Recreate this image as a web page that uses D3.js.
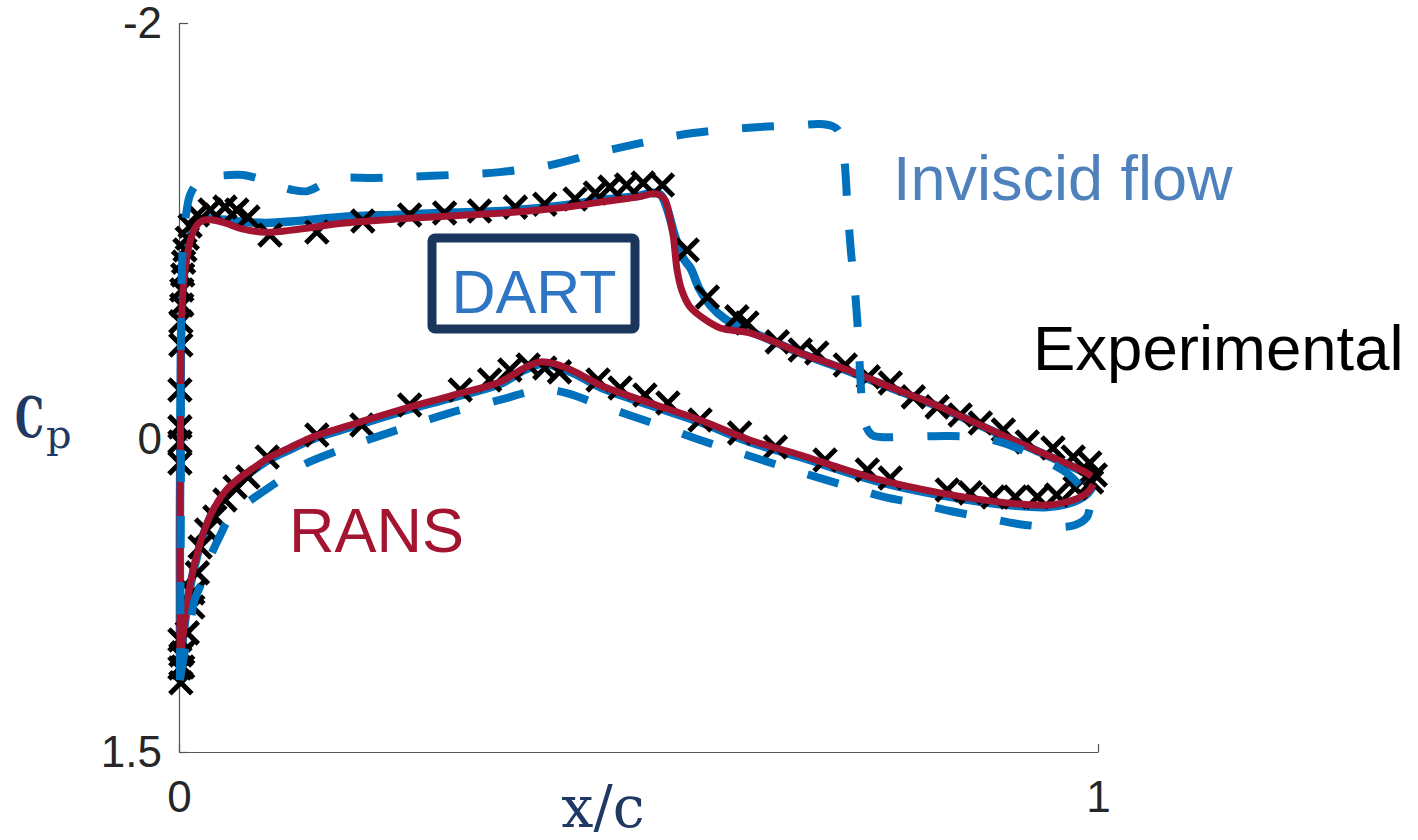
<!DOCTYPE html>
<html>
<head>
<meta charset="utf-8">
<script src="https://cdn.jsdelivr.net/npm/d3@7"></script>
<style>
  html, body { margin: 0; padding: 0; background: #fff; }
  svg { display: block; }
</style>
</head>
<body>
<svg id="chart" width="1418" height="840"></svg>
<script>
// Pressure coefficient distribution along the chord, [x/c, Cp]

// Inviscid solution (dashed)
const inviscidUpper = [
  [0.001, 1.155], [0.002, 0.29], [0.002, -0.43], [0.004, -0.91], [0.0076, -1.078],
  [0.012, -1.174], [0.020, -1.232], [0.028, -1.256], [0.055, -1.270], [0.070, -1.270],
  [0.088, -1.251], [0.107, -1.222], [0.124, -1.198], [0.140, -1.193], [0.159, -1.232],
  [0.177, -1.256], [0.211, -1.256], [0.240, -1.260], [0.295, -1.270], [0.349, -1.284],
  [0.404, -1.318], [0.458, -1.380], [0.502, -1.423], [0.545, -1.462], [0.589, -1.486],
  [0.632, -1.501], [0.676, -1.510], [0.697, -1.515], [0.711, -1.505], [0.717, -1.486],
  [0.720, -1.438], [0.724, -1.342], [0.727, -1.150], [0.731, -0.910], [0.735, -0.742],
  [0.738, -0.574], [0.741, -0.334], [0.743, -0.190], [0.747, -0.070], [0.754, -0.022],
  [0.763, -0.012], [0.785, -0.012], [0.839, -0.017], [0.872, -0.008], [0.897, 0.016],
  [0.929, 0.074], [0.966, 0.160], [0.989, 0.266]
];
const inviscidLower = [
  [0.001, 1.155], [0.0065, 1.010], [0.012, 0.890], [0.017, 0.770], [0.026, 0.674],
  [0.034, 0.564], [0.045, 0.458], [0.055, 0.376], [0.074, 0.304], [0.094, 0.242],
  [0.110, 0.194], [0.135, 0.122], [0.175, 0.050], [0.205, 0.002], [0.248, -0.061],
  [0.295, -0.128], [0.349, -0.190], [0.382, -0.229], [0.404, -0.238], [0.425, -0.219],
  [0.458, -0.166], [0.512, -0.084], [0.567, 0.002], [0.621, 0.079], [0.676, 0.156],
  [0.733, 0.232], [0.768, 0.276], [0.806, 0.309], [0.839, 0.343], [0.879, 0.376],
  [0.913, 0.405], [0.953, 0.420], [0.975, 0.410], [0.988, 0.372], [0.992, 0.290]
];

// DART (solid blue)
const dartUpper = [
  [0.001, 1.15], [0.001, 0.80], [0.001, 0.40], [0.0015, 0.00], [0.002, -0.40],
  [0.003, -0.61], [0.005, -0.77], [0.008, -0.89], [0.012, -0.97], [0.018, -1.04],
  [0.025, -1.06], [0.035, -1.06], [0.050, -1.055], [0.070, -1.045], [0.095, -1.04],
  [0.13, -1.05], [0.18, -1.07], [0.24, -1.08], [0.30, -1.09], [0.36, -1.10],
  [0.42, -1.125], [0.458, -1.15], [0.50, -1.17], [0.516, -1.185], [0.524, -1.175],
  [0.531, -1.11], [0.539, -0.987], [0.548, -0.876], [0.557, -0.82], [0.566, -0.725],
  [0.578, -0.645], [0.594, -0.58], [0.616, -0.53], [0.645, -0.475], [0.676, -0.415],
  [0.719, -0.345], [0.785, -0.230], [0.828, -0.155], [0.893, -0.025], [0.937, 0.062],
  [0.986, 0.160], [0.993, 0.180]
];
const dartLower = [
  [0.001, 1.15], [0.003, 1.01], [0.0065, 0.876], [0.012, 0.71], [0.020, 0.554],
  [0.028, 0.44], [0.037, 0.348], [0.050, 0.26], [0.063, 0.204], [0.080, 0.15],
  [0.099, 0.094], [0.12, 0.05], [0.143, 0.002], [0.197, -0.074], [0.240, -0.132],
  [0.295, -0.199], [0.349, -0.266], [0.376, -0.334], [0.393, -0.363], [0.409, -0.353],
  [0.431, -0.315], [0.458, -0.252], [0.512, -0.166], [0.567, -0.084], [0.621, 0.012],
  [0.676, 0.084], [0.719, 0.146], [0.763, 0.204], [0.828, 0.266], [0.901, 0.314],
  [0.945, 0.324], [0.973, 0.300], [0.988, 0.262], [0.995, 0.220]
];

// RANS (solid red)
const ransUpper = [
  [0.001, 1.15], [0.001, 0.80], [0.001, 0.40], [0.0015, 0.00], [0.002, -0.40],
  [0.003, -0.60], [0.005, -0.75], [0.008, -0.86], [0.012, -0.95], [0.018, -1.02],
  [0.025, -1.05], [0.035, -1.055], [0.050, -1.04], [0.070, -1.01], [0.095, -0.995],
  [0.13, -1.01], [0.18, -1.04], [0.24, -1.06], [0.30, -1.075], [0.36, -1.09],
  [0.42, -1.115], [0.458, -1.14], [0.50, -1.165], [0.515, -1.18], [0.523, -1.175],
  [0.529, -1.15], [0.534, -1.068], [0.538, -0.972], [0.542, -0.814], [0.547, -0.718],
  [0.556, -0.637], [0.570, -0.584], [0.589, -0.536], [0.621, -0.512], [0.651, -0.464],
  [0.676, -0.416], [0.719, -0.348], [0.785, -0.233], [0.828, -0.157], [0.893, -0.027],
  [0.937, 0.060], [0.986, 0.156], [0.993, 0.175]
];
const ransLower = [
  [0.001, 1.15], [0.003, 1.00], [0.0065, 0.866], [0.012, 0.70], [0.020, 0.544],
  [0.028, 0.43], [0.037, 0.338], [0.050, 0.25], [0.063, 0.194], [0.080, 0.14],
  [0.099, 0.084], [0.12, 0.04], [0.143, -0.008], [0.197, -0.084], [0.240, -0.142],
  [0.295, -0.209], [0.349, -0.276], [0.376, -0.344], [0.393, -0.373], [0.409, -0.363],
  [0.431, -0.325], [0.458, -0.262], [0.512, -0.176], [0.567, -0.094], [0.621, 0.002],
  [0.676, 0.074], [0.719, 0.136], [0.763, 0.194], [0.828, 0.256], [0.901, 0.304],
  [0.945, 0.314], [0.973, 0.290], [0.988, 0.256], [0.995, 0.215]
];

// Wind-tunnel measurements
const expUpper = [
  [0.002, 1.168], [0.001, 1.097], [0.002, 1.034], [0.001, 0.962], [0.001, 0.112],
  [0.001, 0.012], [0.001, -0.061], [0.001, -0.238], [0.002, -0.454], [0.002, -0.565],
  [0.003, -0.646], [0.003, -0.718], [0.004, -0.790], [0.005, -0.852], [0.0065, -0.910],
  [0.009, -0.967], [0.012, -1.025], [0.020, -1.078], [0.034, -1.102], [0.050, -1.116],
  [0.063, -1.102], [0.075, -1.068], [0.099, -0.982], [0.150, -0.997], [0.200, -1.049],
  [0.251, -1.078], [0.289, -1.088], [0.327, -1.097], [0.366, -1.116], [0.398, -1.130],
  [0.431, -1.155], [0.453, -1.184], [0.469, -1.212], [0.487, -1.222], [0.505, -1.232],
  [0.526, -1.222], [0.553, -0.910], [0.575, -0.685], [0.607, -0.589], [0.618, -0.560],
  [0.651, -0.469], [0.676, -0.430], [0.694, -0.416], [0.725, -0.358], [0.750, -0.301],
  [0.774, -0.272], [0.799, -0.205], [0.825, -0.157], [0.850, -0.118], [0.872, -0.080],
  [0.897, -0.046], [0.923, 0.012], [0.951, 0.040], [0.973, 0.084], [0.991, 0.112],
  [0.997, 0.170]
];
const expLower = [
  [0.004, 1.092], [0.004, 1.024], [0.009, 0.928], [0.015, 0.804], [0.015, 0.736],
  [0.020, 0.640], [0.023, 0.516], [0.030, 0.434], [0.039, 0.372], [0.050, 0.290],
  [0.061, 0.228], [0.075, 0.180], [0.096, 0.084], [0.150, -0.022], [0.199, -0.070],
  [0.251, -0.166], [0.306, -0.238], [0.338, -0.286], [0.360, -0.334], [0.380, -0.358],
  [0.398, -0.344], [0.414, -0.325], [0.456, -0.286], [0.480, -0.248], [0.507, -0.214],
  [0.532, -0.176], [0.567, -0.094], [0.610, -0.032], [0.649, 0.036], [0.703, 0.098],
  [0.749, 0.146], [0.774, 0.185], [0.836, 0.242], [0.861, 0.256], [0.886, 0.276],
  [0.910, 0.276], [0.934, 0.276], [0.955, 0.266], [0.975, 0.232], [0.993, 0.204]
];

// Axis ticks
const xTicks = [0, 1];
const xTickLabels = ["0", "1"];
const yTicks = [-2, 0, 1.5];
const yTickLabels = ["-2", "0", "1.5"];

const BLUE = "#0072BD";
const RED = "#A2142F";

const svg = d3.select("#chart");

const x = d3.scaleLinear().domain([0, 1]).range([179, 1098]);
const y = d3.scaleLinear().domain([-2, 1.5]).range([23, 752]);

// Axes (MATLAB style: ticks pointing inwards, no box)
const xAxis = d3.axisBottom(x)
  .tickValues(xTicks)
  .tickFormat((d, i) => xTickLabels[i])
  .tickSizeInner(-8).tickSizeOuter(0).tickPadding(29);
const yAxis = d3.axisLeft(y)
  .tickValues(yTicks)
  .tickFormat((d, i) => yTickLabels[i])
  .tickSizeInner(-9).tickSizeOuter(0).tickPadding(17);

const gx = svg.append("g").attr("transform", `translate(0,${y(1.5)})`).call(xAxis);
const gy = svg.append("g").attr("transform", `translate(${x(0)},0)`).call(yAxis);
[gx, gy].forEach(g => {
  g.selectAll("path.domain").attr("stroke", "#555").attr("stroke-width", 1.2);
  g.selectAll(".tick line").attr("stroke", "#555").attr("stroke-width", 1.2);
  g.selectAll(".tick text")
    .attr("fill", "#262626")
    .style("font-family", "'Liberation Sans', Arial, Helvetica, sans-serif")
    .style("font-size", "44px");
});

const line = d3.line()
  .x(d => x(d[0]))
  .y(d => y(d[1]))
  .curve(d3.curveCatmullRom.alpha(0.5));

const plot = svg.append("g");

// DART solid line
[dartUpper, dartLower].forEach(s => {
  plot.append("path").attr("d", line(s))
    .attr("fill", "none").attr("stroke", BLUE).attr("stroke-width", 8.5)
    .attr("stroke-linejoin", "round").attr("stroke-linecap", "butt");
});

// Experimental markers
const cross = "M-11,-11L11,11M-11,11L11,-11";
plot.append("g").selectAll("path")
  .data(expUpper.concat(expLower))
  .join("path")
  .attr("transform", d => `translate(${x(d[0])},${y(d[1])})`)
  .attr("d", cross)
  .attr("fill", "none").attr("stroke", "#000").attr("stroke-width", 5);

// RANS solid line
[ransUpper, ransLower].forEach(s => {
  plot.append("path").attr("d", line(s))
    .attr("fill", "none").attr("stroke", RED).attr("stroke-width", 7)
    .attr("stroke-linejoin", "round").attr("stroke-linecap", "butt");
});

// Inviscid dashed line
[inviscidUpper, inviscidLower].forEach(s => {
  plot.append("path").attr("d", line(s))
    .attr("fill", "none").attr("stroke", BLUE).attr("stroke-width", 8)
    .attr("stroke-dasharray", "32,34")
    .attr("stroke-linejoin", "round").attr("stroke-linecap", "butt");
});

// Annotations
const sans = "'Liberation Sans', Arial, Helvetica, sans-serif";
svg.append("text").attr("x", 893).attr("y", 200)
  .style("font-family", sans).style("font-size", "63px").attr("fill", "#4F81BD")
  .text("Inviscid flow");

svg.append("rect").attr("x", 432).attr("y", 238).attr("width", 203).attr("height", 91)
  .attr("rx", 3).attr("fill", "#fff").attr("stroke", "#1B365D").attr("stroke-width", 9);
svg.append("text").attr("x", 534).attr("y", 313).attr("text-anchor", "middle")
  .style("font-family", sans).style("font-size", "61px").attr("fill", "#2E75C4")
  .text("DART");

svg.append("text").attr("x", 1033).attr("y", 370)
  .style("font-family", sans).style("font-size", "63.5px").attr("fill", "#000")
  .text("Experimental");

svg.append("text").attr("x", 289).attr("y", 552)
  .style("font-family", sans).style("font-size", "63px").attr("fill", "#A2142F")
  .text("RANS");

// Axis titles
const serif = "'DejaVu Serif', 'Liberation Serif', serif";
svg.append("text").attr("x", 603).attr("y", 827).attr("text-anchor", "middle")
  .style("font-family", serif).style("font-size", "57px").attr("fill", "#1F3864")
  .text("x/c");

// C with subscript p, set as one text element
const cpLabel = svg.append("text")
  .style("font-family", serif).attr("fill", "#1F3864");
cpLabel.append("tspan").attr("x", 15).attr("y", 437)
  .attr("textLength", 29).attr("lengthAdjust", "spacingAndGlyphs")
  .style("font-size", "56px").style("font-weight", "bold")
  .text("C");
cpLabel.append("tspan").attr("x", 46).attr("y", 448)
  .style("font-size", "40px")
  .text("p");
</script>
</body>
</html>
